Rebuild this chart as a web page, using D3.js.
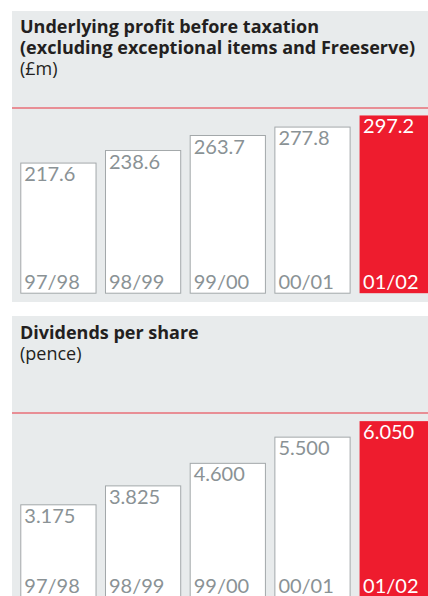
<html>
<head>
<meta charset="utf-8">
<style>
  body { margin: 0; background: #fff; }
  text { font-family: Lato, "Open Sans", sans-serif; }
  text.ttl { font-family: "Open Sans", Lato, sans-serif; }
</style>
</head>
<body>
<svg id="container" width="428" height="596"></svg>
<script src="https://cdn.jsdelivr.net/npm/d3@7"></script>
<script>
  // data
  let years = ["97/98", "98/99", "99/00", "00/01", "01/02"]
  let profit = [217.6, 238.6, 263.7, 277.8, 297.2]
  let profitLabels = ["217.6", "238.6", "263.7", "277.8", "297.2"]
  let dividends = [3.175, 3.825, 4.6, 5.5, 6.05]
  let dividendLabels = ["3.175", "3.825", "4.600", "5.500", "6.050"]

  let svg = d3.select("#container")
  let red = "#ee1c2e"
  let grey = "#e8ebec"

  // same x positions for both panels
  let x = d3.scaleBand()
    .domain(years)
    .range([20.3, 435.3])
    .paddingInner(0.1)
    .paddingOuter(0)

  function panel(opts) {
    let g = svg.append("g")

    g.append("rect")
      .attr("x", 12).attr("y", opts.top)
      .attr("width", 420).attr("height", opts.bottom - opts.top)
      .attr("fill", grey)

    g.append("line")
      .attr("x1", 12).attr("x2", 428)
      .attr("y1", opts.lineY).attr("y2", opts.lineY)
      .attr("stroke", "#e8323f").attr("stroke-width", 1.2)

    // title lines
    opts.title.forEach((t, i) => {
      g.append("text")
        .attr("class", "ttl")
        .attr("x", 20).attr("y", opts.titleY + i * 21)
        .attr("font-size", 18).attr("font-weight", "bold")
        .attr("fill", "#231f20")
        .text(t)
    })
    g.append("text")
      .attr("class", "ttl")
      .attr("x", 20).attr("y", opts.titleY + opts.title.length * 21)
      .attr("font-size", 18)
      .attr("fill", "#231f20")
      .text(opts.unit)

    let y = d3.scaleLinear()
      .domain(opts.domain)
      .range([opts.base, opts.base - opts.span])

    let last = years.length - 1

    g.selectAll("rect.bar").data(opts.values)
      .enter().append("rect")
      .attr("class", "bar")
      .attr("x", (d, i) => x(years[i]) + 0.5)
      .attr("y", d => y(d) + 0.5)
      .attr("width", x.bandwidth() - 1)
      .attr("height", d => y(0) - y(d))
      .attr("fill", (d, i) => i == last ? red : "white")
      .attr("stroke", (d, i) => i == last ? "none" : "#a3a8aa")
      .attr("stroke-width", 1)

    g.selectAll("text.val").data(opts.values)
      .enter().append("text")
      .attr("class", "val")
      .attr("x", (d, i) => x(years[i]) + 4)
      .attr("y", d => y(d) + 18.5)
      .attr("font-size", 20)
      .attr("fill", (d, i) => i == last ? "white" : "#8a9295")
      .text((d, i) => opts.labels[i])

    g.selectAll("text.cat").data(years)
      .enter().append("text")
      .attr("class", "cat")
      .attr("x", d => x(d) + 4)
      .attr("y", y(0) - 3.5)
      .attr("font-size", 20)
      .attr("fill", (d, i) => i == last ? "white" : "#8a9295")
      .text(d => d)
  }

  panel({
    top: 11, bottom: 302, lineY: 108,
    title: ["Underlying profit before taxation", "(excluding exceptional items and Freeserve)"],
    unit: "(£m)", titleY: 33,
    values: profit, labels: profitLabels,
    domain: [0, 300], base: 292.7, span: 179.4
  })

  panel({
    top: 316, bottom: 600, lineY: 413,
    title: ["Dividends per share"],
    unit: "(pence)", titleY: 339,
    values: dividends, labels: dividendLabels,
    domain: [0, 6], base: 596.7, span: 174.6
  })
</script>
</body>
</html>
